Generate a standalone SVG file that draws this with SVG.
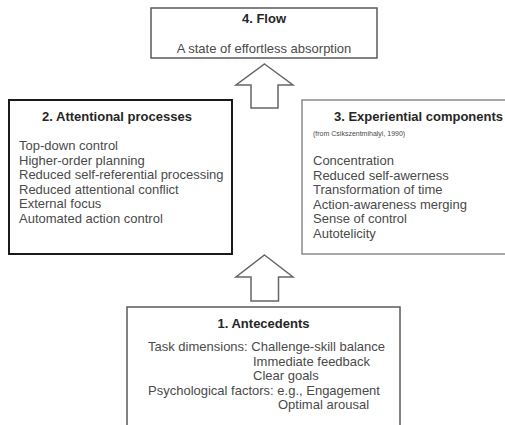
<svg xmlns="http://www.w3.org/2000/svg" width="505" height="425" viewBox="0 0 505 425">
<style>
text{font-family:"Liberation Sans",Arial,sans-serif;font-size:13px;fill:#4a4a4a}
.t{font-weight:bold;fill:#262626}
.s{font-size:7px}
.box{fill:#fff;stroke:#5a5a5a;stroke-width:1.5}
.arrow{fill:#fff;stroke:#666;stroke-width:1.5;stroke-linejoin:miter}
</style>
<rect width="505" height="425" fill="#fff"/>
<g id="flow">
<rect class="box" x="151" y="8" width="226" height="50"/>
<text class="t" x="264" y="23" text-anchor="middle">4. Flow</text>
<text x="264" y="53" text-anchor="middle">A state of effortless absorption</text>
</g>
<g id="attentional">
<rect x="9" y="100" width="223" height="154" fill="#fff" stroke="#1a1a1a" stroke-width="2"/>
<text class="t" x="117" y="121" text-anchor="middle">2. Attentional processes</text>
<text x="19" y="150">Top-down control</text>
<text x="19" y="164.5">Higher-order planning</text>
<text x="19" y="179">Reduced self-referential processing</text>
<text x="19" y="193.5">Reduced attentional conflict</text>
<text x="19" y="208">External focus</text>
<text x="19" y="222.5">Automated action control</text>
</g>
<g id="experiential">
<rect x="302" y="100" width="215" height="154" fill="#fff" stroke="#8a8a8a" stroke-width="1.5"/>
<text class="t" x="334" y="121">3. Experiential components</text>
<text class="s" x="313" y="136">(from Csikszentmihalyi, 1990)</text>
<text x="313" y="165">Concentration</text>
<text x="313" y="179.5">Reduced self-awerness</text>
<text x="313" y="194">Transformation of time</text>
<text x="313" y="208.5">Action-awareness merging</text>
<text x="313" y="223">Sense of control</text>
<text x="313" y="237.5">Autotelicity</text>
</g>
<g id="antecedents">
<rect class="box" x="127" y="307" width="273" height="130"/>
<text class="t" x="263.5" y="328" text-anchor="middle">1. Antecedents</text>
<text x="148" y="351">Task dimensions: Challenge-skill balance</text>
<text x="253" y="365.5">Immediate feedback</text>
<text x="253" y="380">Clear goals</text>
<text x="148" y="394.5">Psychological factors: e.g., Engagement</text>
<text x="278" y="409">Optimal arousal</text>
</g>
<g id="connectors">
<polygon class="arrow" points="264.5,64 293,85 278,85 278,108 251,108 251,85 236,85"/>
<polygon class="arrow" points="264.5,255 293,277 278.5,277 278.5,301 251,301 251,277 236,277"/>
</g>
</svg>
